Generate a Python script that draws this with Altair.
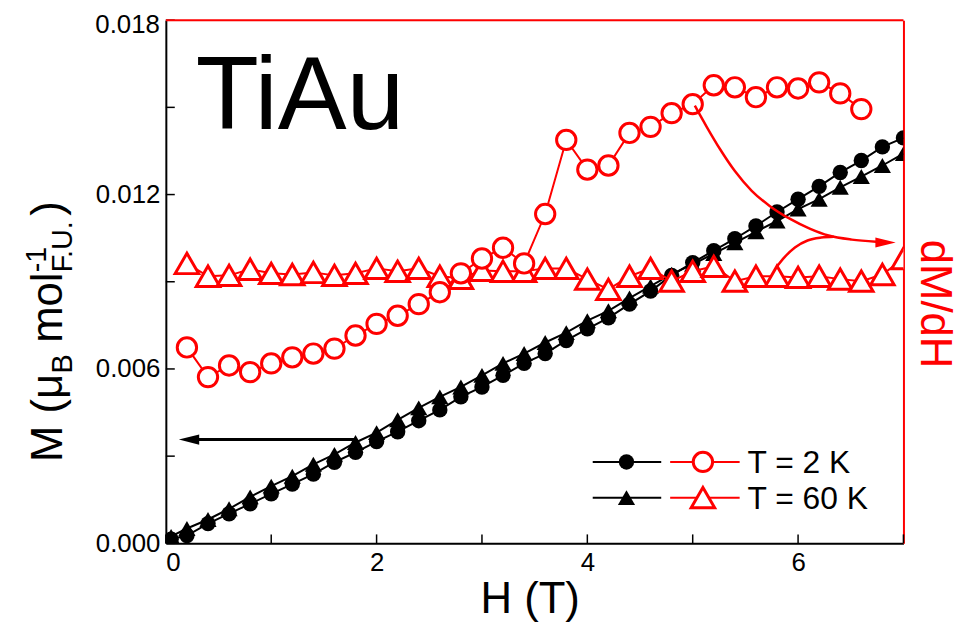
import altair as alt
import pandas as pd

# ---------------- data ----------------
H_M = [0.05, 0.2, 0.4, 0.6, 0.8, 1.0, 1.2, 1.4, 1.6, 1.8, 2.0, 2.2, 2.4, 2.6, 2.8, 3.0, 3.2, 3.4,
       3.6, 3.8, 4.0, 4.2, 4.4, 4.6, 4.8, 5.0, 5.2, 5.4, 5.6, 5.8, 6.0, 6.2, 6.4, 6.6, 6.8, 7.0]
M_2K = [0.00014, 0.00027, 0.00068, 0.00102, 0.00136, 0.00170, 0.00204, 0.00238, 0.00279, 0.00313,
        0.00350, 0.00384, 0.00422, 0.00459, 0.00504, 0.00538, 0.00578, 0.00619, 0.00653, 0.00698,
        0.00738, 0.00776, 0.00823, 0.00868, 0.00922, 0.00966, 0.01007, 0.01048, 0.01092, 0.01140,
        0.01184, 0.01228, 0.01276, 0.01317, 0.01364, 0.01395]
M_60K = [0.00024, 0.00051, 0.00082, 0.00119, 0.00160, 0.00197, 0.00231, 0.00272, 0.00306, 0.00347,
         0.00381, 0.00425, 0.00466, 0.00504, 0.00538, 0.00578, 0.00619, 0.00653, 0.00691, 0.00725,
         0.00766, 0.00800, 0.00844, 0.00885, 0.00926, 0.00960, 0.00997, 0.01034, 0.01072, 0.01109,
         0.01150, 0.01184, 0.01225, 0.01262, 0.01300, 0.01341]

H_D2K = [0.2, 0.4, 0.6, 0.8, 1.0, 1.2, 1.4, 1.6, 1.8, 2.0, 2.2, 2.4, 2.6, 2.8, 3.0, 3.2, 3.4,
         3.6, 3.8, 4.0, 4.2, 4.4, 4.6, 4.8, 5.0, 5.2, 5.4, 5.6, 5.8, 6.0, 6.2, 6.4, 6.6]
DMDH_2K = [6.74, 5.72, 6.12, 5.89, 6.19, 6.40, 6.53, 6.70, 7.15, 7.55, 7.83, 8.23, 8.64, 9.29,
           9.80, 10.17, 9.63, 11.33, 13.88, 12.86, 13.00, 14.12, 14.33, 14.80, 15.11, 15.76,
           15.69, 15.35, 15.69, 15.65, 15.86, 15.48, 14.94]
H_D60K = [0.2, 0.4, 0.6, 0.8, 1.0, 1.2, 1.4, 1.6, 1.8, 2.0, 2.2, 2.4, 2.6, 2.8, 3.0, 3.2, 3.4,
          3.6, 3.8, 4.0, 4.2, 4.4, 4.6, 4.8, 5.0, 5.2, 5.4, 5.6, 5.8, 6.0, 6.2, 6.4, 6.6, 6.8, 7.0]
DMDH_60K = [9.63, 9.19, 9.22, 9.43, 9.29, 9.25, 9.32, 9.22, 9.29, 9.46, 9.36, 9.46, 9.19, 9.12,
            9.39, 9.36, 9.36, 9.46, 9.46, 9.09, 8.74, 9.19, 9.46, 9.02, 9.36, 9.53, 9.02, 9.19,
            9.19, 9.15, 9.19, 9.09, 9.02, 9.25, 9.80]

# annotation arrows (data coordinates)
BLACK_ARROW_H = [0.22, 1.79]
BLACK_ARROW_M = [0.00357, 0.00357]
RED_CURVE1_H = [5.02, 5.13, 5.26, 5.40, 5.56, 5.73, 5.92, 6.11, 6.29, 6.51, 6.74]
RED_CURVE1_V = [15.06, 14.35, 13.56, 12.81, 12.13, 11.61, 11.17, 10.83, 10.59, 10.45, 10.38]
RED_CURVE2_H = [5.80, 5.87, 5.97, 6.09, 6.22, 6.34]
RED_CURVE2_V = [9.53, 9.84, 10.18, 10.42, 10.52, 10.55]
RED_HEAD = (6.83, 10.35)

LEFT_TICKS = [0.0, 0.003, 0.006, 0.009, 0.012, 0.015, 0.018]
LEFT_LABELS = [0.0, 0.006, 0.012]
TOP_LABEL = "0.018"
X_TICKS = [0, 1, 2, 3, 4, 5, 6, 7]
X_LABELS = [0, 2, 4, 6]

FONT = "Liberation Sans"
W, H = 743, 527
RED = "#ff0000"

xsc = alt.Scale(domain=[0, 7], nice=False, zero=False)
ysc_l = alt.Scale(domain=[0, 0.018], nice=False, zero=False)
ysc_r = alt.Scale(domain=[0, 18], nice=False, zero=False)

xenc = alt.X("H:Q", scale=xsc,
             axis=alt.Axis(values=X_LABELS, format="d", labelFontSize=26, labelFont=FONT,
                           labelColor="black", ticks=False, domainColor="black",
                           domainWidth=2, labelPadding=6, title=None, grid=False))

df_m2 = pd.DataFrame({"H": H_M, "M": M_2K})
df_m60 = pd.DataFrame({"H": H_M, "M": M_60K})
df_d2 = pd.DataFrame({"H": H_D2K, "V": DMDH_2K})
df_d60 = pd.DataFrame({"H": H_D60K, "V": DMDH_60K})

yl = alt.Y("M:Q", scale=ysc_l,
           axis=alt.Axis(values=LEFT_LABELS, format=".3f", labelFontSize=26, labelFont=FONT,
                         labelColor="black", ticks=False, domainColor="black", domainWidth=2,
                         labelPadding=6, title=None, grid=False, orient="left"))

line2 = alt.Chart(df_m2).mark_line(color="black", strokeWidth=2, clip=True).encode(x=xenc, y=yl)
pts2 = alt.Chart(df_m2).mark_point(shape="circle", filled=True, color="black", size=240,
                                   opacity=1, clip=True).encode(x="H:Q", y="M:Q")
line60 = alt.Chart(df_m60).mark_line(color="black", strokeWidth=2, clip=True).encode(x="H:Q", y="M:Q")
pts60 = alt.Chart(df_m60).mark_point(shape="triangle-up", filled=True, color="black", size=300,
                                     opacity=1, clip=True).encode(x="H:Q", y="M:Q")

df_ba = pd.DataFrame({"H": BLACK_ARROW_H, "M": BLACK_ARROW_M})
barrow = alt.Chart(df_ba).mark_line(color="black", strokeWidth=3).encode(x="H:Q", y="M:Q")
bhead = alt.Chart(df_ba.iloc[[0]]).mark_point(shape="M1,-0.5L-1,0L1,0.5Z", filled=True,
                                               color="black", size=420, opacity=1).encode(
    x="H:Q", y="M:Q")

df_lt = pd.DataFrame({"M": LEFT_TICKS})
lticks = alt.Chart(df_lt).mark_rule(color="black", strokeWidth=1.5).encode(
    y="M:Q", x=alt.value(0), x2=alt.value(9))
df_xt = pd.DataFrame({"H": X_TICKS})
xticks = alt.Chart(df_xt).mark_rule(color="black", strokeWidth=1.5).encode(
    x="H:Q", y=alt.value(H), y2=alt.value(H - 9))

left = alt.layer(lticks, xticks, line60, line2, pts60, pts2, barrow, bhead)

# ---- right (red) layer
yr = alt.Y("V:Q", scale=ysc_r,
           axis=alt.Axis(orient="right", labels=False, ticks=False, domainColor=RED,
                         domainWidth=2, title=None, grid=False))
rline2 = alt.Chart(df_d2).mark_line(color=RED, strokeWidth=2, clip=True).encode(x="H:Q", y=yr)
rpts2 = alt.Chart(df_d2).mark_point(shape="circle", filled=True, fill="white", stroke=RED,
                                    strokeWidth=3, size=380, opacity=1, clip=True).encode(
    x="H:Q", y="V:Q")
rline60 = alt.Chart(df_d60).mark_line(color=RED, strokeWidth=2, clip=True).encode(x="H:Q", y="V:Q")
rpts60 = alt.Chart(df_d60).mark_point(shape="triangle-up", filled=True, fill="white", stroke=RED,
                                      strokeWidth=3, size=560, opacity=1, clip=True).encode(
    x="H:Q", y="V:Q")

df_c1 = pd.DataFrame({"H": RED_CURVE1_H, "V": RED_CURVE1_V})
df_c2 = pd.DataFrame({"H": RED_CURVE2_H, "V": RED_CURVE2_V})
c1 = alt.Chart(df_c1).mark_line(color=RED, strokeWidth=2.5, interpolate="monotone").encode(
    x="H:Q", y="V:Q")
c2 = alt.Chart(df_c2).mark_line(color=RED, strokeWidth=2.5, interpolate="monotone").encode(
    x="H:Q", y="V:Q")
df_rh = pd.DataFrame({"H": [RED_HEAD[0]], "V": [RED_HEAD[1]]})
rhead = alt.Chart(df_rh).mark_point(shape="M-1,-0.5L1,0L-1,0.5Z", filled=True, color=RED,
                                    size=420, opacity=1).encode(x="H:Q", y="V:Q")

right = alt.layer(rline60, rline2, rpts60, rpts2, c1, c2, rhead)

# ---- decorations: frame top, texts, legend
anchor = pd.DataFrame({"a": [0]})
top_rule = alt.Chart(anchor).mark_rule(color=RED, strokeWidth=2).encode(
    x=alt.value(0), x2=alt.value(W), y=alt.value(0))


def txt(s, x, y, size, color="black", angle=0, align="left", baseline="alphabetic"):
    return alt.Chart(anchor).mark_text(text=s, font=FONT, fontSize=size, color=color, angle=angle,
                                       align=align, baseline=baseline).encode(
        x=alt.value(x), y=alt.value(y))


texts = [
    txt(TOP_LABEL, -6, 5, 26, align="right", baseline="middle"),
    txt("TiAu", 30, 110, 104),
    txt("H (T)", 367, 597, 44, align="center"),
    txt("dM/dH", 761, 286, 44, color=RED, angle=90, align="center"),
    # left axis title pieces (rotated)
    txt("M (\u03bc", -105, 445, 44, angle=270),
    txt("B", -95, 356, 29, angle=270),
    txt("mol", -105, 325, 44, angle=270),
    txt("-1", -121, 254, 29, angle=270),
    txt("F.U.", -95, 254, 29, angle=270),
    txt(")", -105, 197, 44, angle=270),
    # legend texts
    txt("T = 2 K", 586, 456, 32),
    txt("T = 60 K", 586, 492, 32),
]

leg = []
for ly, shp, sz_b, sz_r in [(445, "circle", 240, 380), (481, "triangle-up", 300, 560)]:
    leg.append(alt.Chart(anchor).mark_rule(color="black", strokeWidth=2).encode(
        x=alt.value(430), x2=alt.value(499), y=alt.value(ly)))
    leg.append(alt.Chart(anchor).mark_rule(color=RED, strokeWidth=2).encode(
        x=alt.value(508), x2=alt.value(578), y=alt.value(ly)))
    leg.append(alt.Chart(anchor).mark_point(shape=shp, filled=True, color="black", size=sz_b,
                                            opacity=1).encode(x=alt.value(464), y=alt.value(ly)))
    leg.append(alt.Chart(anchor).mark_point(shape=shp, filled=True, fill="white", stroke=RED,
                                            strokeWidth=3, size=sz_r, opacity=1).encode(
        x=alt.value(541), y=alt.value(ly)))

deco = alt.layer(top_rule, *texts, *leg)

chart = alt.layer(left, right, deco).resolve_scale(y="independent").properties(
    width=W, height=H,
    padding={"left": 159, "top": 10, "right": 62, "bottom": 80},
    autosize=alt.AutoSizeParams(type="none"),
).configure_view(stroke=None).configure(font=FONT)

chart.save("out.html", embed_options={"renderer": "svg", "actions": False})
